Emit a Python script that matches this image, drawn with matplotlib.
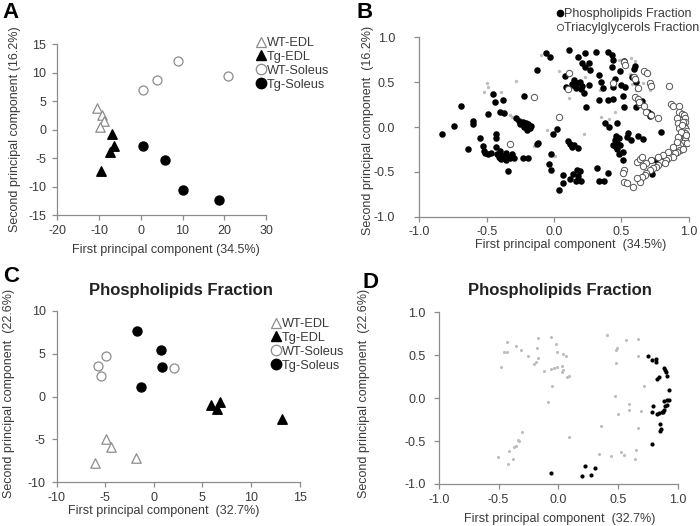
import numpy as np
import matplotlib
matplotlib.use("Agg")
import matplotlib.pyplot as plt
from matplotlib.lines import Line2D

plt.rcParams['font.family'] = ['Liberation Sans', 'DejaVu Sans']

# ---------------- panel A ----------------
A_wt_edl_x = [-10.5, -9.3, -8.8, -9.9]
A_wt_edl_y = [3.8, 2.5, 1.6, 0.4]
A_tg_edl_x = [-6.8, -6.4, -7.3, -9.5]
A_tg_edl_y = [-0.7, -2.9, -3.9, -7.2]
A_wt_sol_x = [0.5, 3.9, 9.0, 21.0]
A_wt_sol_y = [6.9, 8.8, 12.0, 9.4]
A_tg_sol_x = [0.5, 5.8, 10.2, 18.7]
A_tg_sol_y = [-2.8, -5.4, -10.6, -12.3]

# ---------------- panel C ----------------
C_wt_edl_x = [-4.9, -4.4, -6.05, -1.8]
C_wt_edl_y = [-5.0, -5.9, -7.8, -7.2]
C_tg_edl_x = [5.9, 6.5, 6.8, 13.2]
C_tg_edl_y = [-0.95, -1.45, -0.65, -2.6]
C_wt_sol_x = [-4.9, -5.8, -5.4, 2.1]
C_wt_sol_y = [4.75, 3.6, 2.4, 3.3]
C_tg_sol_x = [-1.7, 0.7, 0.85, -1.3]
C_tg_sol_y = [7.6, 5.4, 3.4, 1.1]

# ---------------- panel B ----------------
B_pl = [(-0.83, -0.08), (-0.74, 0.01), (-0.69, 0.23), (-0.64, -0.24), (-0.60, 0.07), (-0.60, 0.03),
        (-0.55, -0.12), (-0.53, -0.21), (-0.52, -0.27), (-0.51, -0.29), (-0.49, 0.14), (-0.49, -0.30),
        (-0.47, -0.29), (-0.45, 0.37), (-0.44, 0.28), (-0.43, -0.08), (-0.43, -0.12), (-0.43, -0.22),
        (-0.42, -0.30), (-0.41, -0.33), (-0.40, -0.27), (-0.40, -0.35), (-0.39, -0.31), (-0.39, -0.36),
        (-0.38, 0.30), (-0.37, -0.34), (-0.36, -0.29), (-0.36, -0.37), (-0.35, -0.32), (-0.34, -0.49),
        (-0.40, 0.17), (-0.37, 0.16), (-0.33, -0.35), (-0.31, -0.30), (-0.30, -0.35), (-0.28, 0.10),
        (-0.26, 0.07), (-0.25, 0.03), (-0.23, 0.06), (-0.22, 0.35), (-0.22, 0.00), (-0.21, 0.04),
        (-0.20, 0.01), (-0.20, -0.03), (-0.19, 0.03), (-0.18, -0.01), (-0.17, 0.01), (-0.23, -0.35),
        (-0.19, -0.34), (-0.13, -0.19), (-0.12, -0.18), (-0.13, 0.64), (-0.06, 0.82), (-0.03, 0.78),
        (-0.04, -0.41), (-0.02, -0.30), (-0.02, -0.48), (-0.01, -0.08), (0.02, -0.02), (0.04, -0.70),
        (0.07, -0.53), (0.07, -0.62), (0.08, 0.57), (0.09, 0.45), (0.10, -0.16), (0.11, 0.86),
        (0.12, -0.19), (0.12, -0.58), (0.13, -0.22), (0.13, 0.48), (0.14, -0.52), (0.15, 0.52),
        (0.15, -0.20), (0.16, -0.60), (0.16, 0.44), (0.17, -0.48), (0.18, 0.78), (0.18, -0.23),
        (0.18, -0.55), (0.19, 0.50), (0.19, -0.49), (0.20, 0.42), (0.20, -0.60), (0.21, 0.71),
        (0.21, 0.46), (0.22, 0.38), (0.23, 0.82), (0.23, 0.67), (0.24, 0.22), (0.26, 0.71),
        (0.26, 0.47), (0.27, 0.64), (0.31, 0.84), (0.32, -0.46), (0.33, 0.30), (0.33, -0.60),
        (0.33, 0.58), (0.35, 0.50), (0.37, -0.60), (0.38, 0.04), (0.40, 0.84), (0.40, 0.30),
        (0.40, -0.51), (0.41, 0.00), (0.43, 0.80), (0.43, 0.67), (0.44, 0.75), (0.44, 0.31),
        (0.44, 0.45), (0.45, 0.54), (0.45, -0.15), (0.46, -0.22), (0.46, -0.10), (0.47, -0.18),
        (0.47, -0.25), (0.48, -0.12), (0.48, -0.30), (0.49, 0.62), (0.49, -0.20), (0.50, 0.47),
        (0.51, -0.28), (0.51, -0.37), (0.51, 0.35), (0.52, 0.74), (0.52, 0.22), (0.53, 0.45),
        (0.54, -0.11), (0.55, -0.07), (0.57, -0.14), (0.58, 0.56), (0.59, 0.65), (0.60, 0.68),
        (0.61, 0.50), (0.62, 0.30), (0.62, -0.10), (0.61, 0.22), (0.65, 0.29), (0.66, -0.13),
        (0.70, 0.17), (0.71, 0.12), (0.72, 0.14), (0.72, -0.37), (0.73, -0.52), (0.76, -0.37),
        (0.79, -0.05), (0.36, 0.43), (0.17, 0.49), (0.14, 0.47), (0.44, -0.20), (0.47, 0.04)]
B_tag = [(-0.15, 0.34), (-0.33, -0.19), (0.04, 0.115), (0.11, 0.60), (0.10, 0.42), (0.44, 0.49),
         (0.52, 0.72), (0.53, 0.69), (0.59, 0.56), (0.60, 0.53), (0.67, 0.62), (0.69, 0.60),
         (0.71, 0.49), (0.72, 0.46), (0.62, 0.44), (0.60, 0.34), (0.62, 0.31), (0.64, 0.26),
         (0.63, 0.28), (0.67, 0.23), (0.68, 0.17), (0.72, 0.13), (0.77, 0.10), (0.85, 0.46),
         (0.87, 0.26), (0.88, 0.23), (0.93, 0.24), (0.93, 0.17), (0.95, 0.15), (0.965, 0.13),
         (0.975, 0.10), (0.97, 0.06), (0.965, 0.01), (0.975, -0.015), (0.983, -0.045), (0.97, -0.07),
         (0.953, -0.09), (0.97, -0.11), (0.975, -0.145), (0.958, -0.175), (0.933, -0.20), (0.921, -0.22),
         (0.933, -0.257), (0.909, -0.275), (0.896, -0.294), (0.859, -0.312), (0.884, -0.331),
         (0.847, -0.349), (0.829, -0.368), (0.797, -0.387), (0.822, -0.405), (0.773, -0.424),
         (0.755, -0.442), (0.735, -0.461), (0.711, -0.48), (0.686, -0.517), (0.674, -0.535),
         (0.649, -0.554), (0.637, -0.61), (0.612, -0.572), (0.587, -0.665), (0.518, -0.48),
         (0.508, -0.509), (0.518, -0.61), (0.54, -0.62), (0.612, -0.387), (0.637, -0.361),
         (0.649, -0.331), (0.916, 0.097), (0.92, 0.04), (0.93, -0.015), (0.945, -0.052),
         (0.92, -0.108), (0.909, -0.164), (0.884, -0.22), (0.847, -0.275), (0.81, -0.31),
         (0.773, -0.33), (0.72, -0.37), (0.686, -0.405), (0.66, -0.44), (0.958, 0.06),
         (0.95, 0.02), (0.98, -0.09), (0.983, -0.18), (0.958, -0.24)]
B_other = [(-0.095, 0.80), (0.04, 0.62), (-0.28, 0.51), (-0.50, 0.49), (-0.49, 0.45), (-0.52, 0.39),
           (-0.39, 0.39), (-0.325, 0.13), (-0.31, 0.11), (-0.056, -0.03), (0.006, -0.32),
           (-0.15, -0.21), (0.11, 0.32), (0.23, 0.56), (0.27, 0.62), (0.34, 0.41), (0.35, 0.115),
           (0.45, 0.17), (0.48, 0.75), (0.54, 0.68), (0.56, 0.59), (0.61, 0.41), (0.66, 0.49),
           (0.71, 0.41), (0.50, 0.75), (0.41, 0.085), (0.19, 0.43), (0.22, -0.08), (0.57, 0.77),
           (0.60, 0.74), (0.58, 0.48)]

# ---------------- panel D ----------------
D_pl = [(0.749, 0.491), (0.782, 0.441), (0.821, 0.456), (0.821, 0.425), (0.883, 0.355), (0.894, 0.332),
        (0.902, 0.309), (0.914, 0.262), (0.847, 0.243), (0.827, 0.223), (0.927, 0.095), (0.886, -0.037),
        (0.908, -0.025), (0.930, -0.021), (0.908, -0.076), (0.894, -0.096), (0.886, -0.142),
        (0.866, -0.165), (0.847, -0.173), (0.827, -0.181), (0.880, -0.165), (0.791, -0.096),
        (0.782, -0.165), (0.852, -0.305), (0.863, -0.359), (0.852, -0.379), (0.788, -0.535),
        (0.227, -0.792), (0.278, -0.901), (0.305, -0.816), (0.202, -0.909), (-0.063, -0.873)]
D_other = [(-0.43, 0.658), (-0.456, 0.535), (-0.426, 0.542), (-0.353, 0.612), (-0.311, 0.565),
           (-0.255, 0.488), (-0.479, 0.367), (-0.20, 0.395), (-0.186, 0.425), (-0.172, 0.472),
           (-0.175, 0.581), (-0.169, 0.698), (-0.063, 0.713), (-0.018, 0.628), (-0.008, 0.542),
           (-0.116, 0.317), (-0.06, 0.337), (-0.033, 0.355), (-0.01, 0.36), (-0.049, 0.146),
           (-0.088, -0.044), (-0.303, -0.397), (-0.334, -0.483), (-0.326, -0.498), (-0.353, -0.553),
           (-0.367, -0.572), (-0.409, -0.611), (-0.506, -0.689), (-0.378, -0.708), (-0.417, -0.77),
           (0.043, 0.511), (0.063, 0.495), (0.034, 0.375), (0.043, 0.328), (0.029, 0.309),
           (0.071, 0.25), (0.09, 0.262), (0.406, 0.736), (0.49, 0.588), (0.481, 0.561),
           (0.565, 0.678), (0.665, 0.686), (0.67, 0.495), (0.484, 0.406), (0.72, 0.142),
           (0.475, 0.029), (0.592, -0.071), (0.592, -0.137), (0.503, -0.184), (0.693, -0.149),
           (0.665, -0.344), (0.358, -0.32), (0.09, -0.448), (0.344, -0.65), (0.439, -0.673),
           (0.525, -0.623), (0.553, -0.662), (0.651, -0.603), (0.643, -0.708)]

SPINE = '#8c8c8c'
TXT = '#3a3a3a'
OPEN = '#8c8c8c'
LIGHT = '#bdbdbd'
TICK_FS = 9
LAB_FS = 9
LEG_FS = 9.2

fig = plt.figure(figsize=(7, 5.26), dpi=100)


def style(ax, xlim, ylim, xt, yt, fmt, ypad=4.5):
    ax.set_xlim(xlim)
    ax.set_ylim(ylim)
    ax.set_xticks(xt)
    ax.set_yticks(yt)
    ax.set_xticklabels([fmt.format(v) for v in xt])
    ax.set_yticklabels([fmt.format(v) for v in yt])
    for s in ['top', 'right']:
        ax.spines[s].set_visible(False)
    for s in ['left', 'bottom']:
        ax.spines[s].set_color(SPINE)
        ax.spines[s].set_linewidth(0.9)
    ax.tick_params(direction='out', length=3.5, width=0.9, color=SPINE,
                   labelsize=TICK_FS, labelcolor=TXT)
    ax.tick_params(axis='x', pad=3.5)
    ax.tick_params(axis='y', pad=ypad)


def labels(ax, xl, yl, xpos, ypos):
    ax.set_xlabel(xl, fontsize=LAB_FS, color=TXT)
    ax.set_ylabel(yl, fontsize=LAB_FS, color=TXT)
    ax.xaxis.set_label_coords(*xpos)
    ax.yaxis.set_label_coords(*ypos)
    ax.xaxis.label.set_verticalalignment('center')
    ax.yaxis.label.set_verticalalignment('center')


def group_scatter(ax, wx, wy, tx, ty, sx, sy, gx, gy, s=42):
    ax.scatter(wx, wy, marker='^', s=s * 1.1, facecolors='white', edgecolors=OPEN, linewidths=0.9, zorder=3)
    ax.scatter(tx, ty, marker='^', s=s * 1.1, color='black', zorder=3)
    ax.scatter(sx, sy, marker='o', s=s, facecolors='white', edgecolors=OPEN, linewidths=0.9, zorder=3)
    ax.scatter(gx, gy, marker='o', s=s, color='black', zorder=3)


def group_legend(anchor):
    h = [Line2D([], [], ls='', marker='^', ms=7.5, mfc='white', mec=OPEN, mew=0.9),
         Line2D([], [], ls='', marker='^', ms=7.5, mfc='black', mec='black'),
         Line2D([], [], ls='', marker='o', ms=7.5, mfc='white', mec=OPEN, mew=0.9),
         Line2D([], [], ls='', marker='o', ms=7.5, mfc='black', mec='black')]
    fig.legend(h, ['WT-EDL', 'Tg-EDL', 'WT-Soleus', 'Tg-Soleus'], loc='upper left',
               bbox_to_anchor=anchor, frameon=False, fontsize=LEG_FS, handlelength=0.7,
               handletextpad=0.1, labelspacing=0.15, borderpad=0, borderaxespad=0,
               labelcolor=TXT)


# ---- A ----
axA = fig.add_axes([0.082, 0.591, 0.298, 0.325])
group_scatter(axA, A_wt_edl_x, A_wt_edl_y, A_tg_edl_x, A_tg_edl_y,
              A_wt_sol_x, A_wt_sol_y, A_tg_sol_x, A_tg_sol_y)
style(axA, (-20, 30), (-15, 15), [-20, -10, 0, 10, 20, 30], [-15, -10, -5, 0, 5, 10, 15], '{:g}')
labels(axA, 'First principal component (34.5%)', 'Second principal component (16.2%)',
       (0.519, -0.205), (-0.203, 0.5))
group_legend((257 / 700, 1 - 37 / 526))

# ---- B ----
axB = fig.add_axes([0.599, 0.588, 0.385, 0.341])
bo = np.array(B_other)
bp = np.array(B_pl)
bt = np.array(B_tag)
axB.scatter(bo[:, 0], bo[:, 1], s=6, color=LIGHT, linewidths=0, zorder=2)
axB.scatter(bp[:, 0], bp[:, 1], s=22, color='black', linewidths=0, zorder=3)
axB.scatter(bt[:, 0], bt[:, 1], s=21, facecolors='white', edgecolors='#555555', linewidths=0.7, zorder=4)
ticks1 = [-1.0, -0.5, 0.0, 0.5, 1.0]
style(axB, (-1, 1), (-1, 1), ticks1, ticks1, '{:.1f}', ypad=14)
labels(axB, 'First principal component  (34.5%)', 'Second principal component  (16.2%)',
       (0.5625, -0.156), (-0.19, 0.48))
hB = [Line2D([], [], ls='', marker='o', ms=4.5, mfc='black', mec='black'),
      Line2D([], [], ls='', marker='o', ms=4.5, mfc='white', mec='#555555', mew=0.7)]
fig.legend(hB, ['Phospholipids Fraction', 'Triacylglycerols Fraction'], loc='upper left',
           bbox_to_anchor=(557 / 700, 1 - 8 / 526), frameon=False, fontsize=9,
           handlelength=0.5, handletextpad=0.1, labelspacing=0.2, borderpad=0,
           borderaxespad=0, labelcolor=TXT)

# ---- C ----
axC = fig.add_axes([0.081, 0.083, 0.347, 0.326])
group_scatter(axC, C_wt_edl_x, C_wt_edl_y, C_tg_edl_x, C_tg_edl_y,
              C_wt_sol_x, C_wt_sol_y, C_tg_sol_x, C_tg_sol_y)
style(axC, (-10, 15), (-10, 10), [-10, -5, 0, 5, 10, 15], [-10, -5, 0, 5, 10], '{:g}')
labels(axC, 'First principal component  (32.7%)', 'Second principal component  (22.6%)',
       (0.442, -0.169), (-0.197, 0.52))
fig.text(181 / 700, 1 - 291 / 526, 'Phospholipids Fraction', ha='center', va='center',
         fontsize=12, fontweight='bold', color='#222222')
group_legend((272 / 700, 1 - 318 / 526))

# ---- D ----
axD = fig.add_axes([0.627, 0.080, 0.341, 0.326])
do = np.array(D_other)
dp = np.array(D_pl)
axD.scatter(do[:, 0], do[:, 1], s=5, color=LIGHT, linewidths=0, zorder=2)
axD.scatter(dp[:, 0], dp[:, 1], s=9, color='black', linewidths=0, zorder=3)
style(axD, (-1, 1), (-1, 1), ticks1, ticks1, '{:.1f}', ypad=6)
labels(axD, 'First principal component  (32.7%)', 'Second principal component  (22.6%)',
       (0.507, -0.204), (-0.313, 0.53))
fig.text(560 / 700, 1 - 291 / 526, 'Phospholipids Fraction', ha='center', va='center',
         fontsize=12, fontweight='bold', color='#222222')

# panel letters
for lab, x, y in [('A', 2, 12), ('B', 357, 12), ('C', 3, 276), ('D', 363, 282)]:
    fig.text(x / 700, 1 - y / 526, lab, ha='left', va='center', fontsize=16,
             fontweight='bold', color='black')

fig.savefig('out.png', dpi=100)
